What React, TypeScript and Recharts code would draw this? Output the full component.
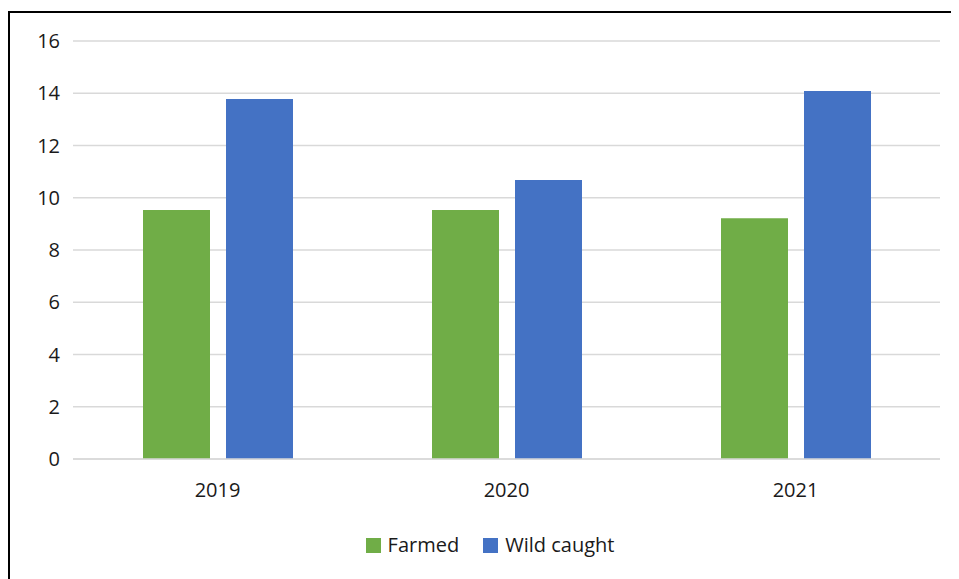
import React from 'react';
import { BarChart, Bar, XAxis, YAxis, CartesianGrid, Legend } from 'recharts';

const years = ['2019', '2020', '2021'];
const farmed = [9.53, 9.53, 9.22];
const wildCaught = [13.78, 10.68, 14.09];
const yTicks = [0, 2, 4, 6, 8, 10, 12, 14, 16];

const series = [
  { key: 'farmed', name: 'Farmed', color: '#70AD47' },
  { key: 'wild', name: 'Wild caught', color: '#4472C4' },
];

const data = years.map((year, i) => ({
  year,
  farmed: farmed[i],
  wild: wildCaught[i],
}));

const FONT = '"Open Sans", "Noto Sans", sans-serif';
const TEXT = '#1a1a1a';

const LegendContent = () => (
  <div
    style={{
      display: 'flex',
      justifyContent: 'center',
      paddingLeft: 30,
      fontFamily: FONT,
      fontSize: 20,
      color: TEXT,
      lineHeight: '26px',
    }}
  >
    {series.map((s, i) => (
      <div
        key={s.key}
        style={{ display: 'flex', alignItems: 'center', marginLeft: i === 0 ? 0 : 24 }}
      >
        <span style={{ width: 15, height: 15, background: s.color, marginRight: 7 }} />
        <span>{s.name}</span>
      </div>
    ))}
  </div>
);

export default function App() {
  return (
    <div style={{ paddingTop: 3 }}>
      <style>{'body{overflow:hidden}'}</style>
      <div
        style={{
          width: 980,
          height: 568,
          borderTop: '2px solid #000',
          borderLeft: '2px solid #000',
          fontFamily: FONT,
        }}
      >
        <BarChart
          width={949}
          height={568}
          data={data}
          margin={{ top: 28, right: 19, left: 0, bottom: 19 }}
          barCategoryGap={70}
          barGap={16}
        >
          <CartesianGrid vertical={false} stroke="#d9d9d9" strokeWidth={1.5} />
          <XAxis
            dataKey="year"
            height={73}
            tickLine={false}
            tickSize={0}
            tickMargin={24}
            axisLine={{ stroke: '#d9d9d9', strokeWidth: 1.5 }}
            tick={{ fill: TEXT, fontSize: 20, fontFamily: FONT }}
          />
          <YAxis
            width={63}
            domain={[0, 16]}
            ticks={yTicks}
            axisLine={false}
            tickLine={false}
            tickSize={0}
            tickMargin={13}
            tick={{ fill: TEXT, fontSize: 20, fontFamily: FONT }}
          />
          <Legend verticalAlign="bottom" height={30} content={<LegendContent />} />
          {series.map((s) => (
            <Bar
              key={s.key}
              dataKey={s.key}
              name={s.name}
              fill={s.color}
              isAnimationActive={false}
            />
          ))}
        </BarChart>
      </div>
    </div>
  );
}
